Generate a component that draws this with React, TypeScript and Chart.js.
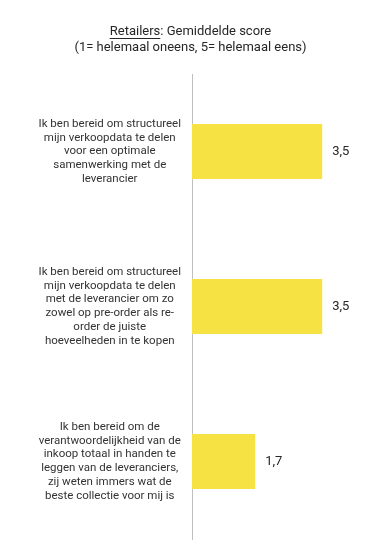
import React, { useEffect, useRef } from "react";
import { Chart, registerables } from "chart.js";

Chart.register(...registerables);

const TITLE_UNDERLINED = "Retailers";
const TITLE_REST = ": Gemiddelde score";
const SUBTITLE = "(1= helemaal oneens, 5= helemaal eens)";

const categories: string[][] = [
  ["Ik ben bereid om structureel", "mijn verkoopdata te delen", "voor een optimale", "samenwerking met de", "leverancier"],
  ["Ik ben bereid om structureel", "mijn verkoopdata te delen", "met de leverancier om zo", "zowel op pre-order als re-", "order de juiste", "hoeveelheden in te kopen"],
  ["Ik ben bereid om de", "verantwoordelijkheid van de", "inkoop totaal in handen te", "leggen van de leveranciers,", "zij weten immers wat de", "beste collectie voor mij is"],
];

const scores: number[] = [3.5, 3.5, 1.7];

const FONT = "Roboto, 'Noto Sans', sans-serif";

const titlePlugin = {
  id: "customTitle",
  afterDraw(chart: any) {
    const ctx = chart.ctx;
    ctx.save();
    ctx.font = `13px ${FONT}`;
    ctx.fillStyle = "#262626";
    ctx.textBaseline = "middle";
    const cx = chart.width / 2;
    const w1 = ctx.measureText(TITLE_UNDERLINED).width;
    const w2 = ctx.measureText(TITLE_REST).width;
    const x0 = cx - (w1 + w2) / 2;
    ctx.textAlign = "left";
    ctx.fillText(TITLE_UNDERLINED, x0, 32);
    ctx.fillRect(x0, 38, w1, 1);
    ctx.fillText(TITLE_REST, x0 + w1, 32);
    ctx.textAlign = "center";
    ctx.fillText(SUBTITLE, cx, 47.5);
    ctx.restore();
  },
};

const valueLabelPlugin = {
  id: "valueLabels",
  afterDatasetsDraw(chart: any) {
    const ctx = chart.ctx;
    const meta = chart.getDatasetMeta(0);
    ctx.save();
    ctx.font = `13px ${FONT}`;
    ctx.fillStyle = "#262626";
    ctx.textAlign = "left";
    ctx.textBaseline = "middle";
    meta.data.forEach((bar: any, i: number) => {
      const v = chart.data.datasets[0].data[i] as number;
      ctx.fillText(v.toFixed(1).replace(".", ","), bar.x + 10, bar.y);
    });
    ctx.restore();
  },
};

export default function App() {
  const canvasRef = useRef<HTMLCanvasElement | null>(null);

  useEffect(() => {
    if (!canvasRef.current) return;
    const chart = new Chart(canvasRef.current, {
      type: "bar",
      data: {
        labels: categories,
        datasets: [
          {
            data: scores,
            backgroundColor: "#F6E343",
            borderWidth: 0,
            categoryPercentage: 1,
            barPercentage: 0.355,
          },
        ],
      },
      options: {
        indexAxis: "y",
        animation: false,
        responsive: true,
        maintainAspectRatio: false,
        layout: { padding: { top: 74, bottom: 9, right: 3, left: 0 } },
        plugins: {
          legend: { display: false },
          title: { display: false },
          tooltip: { enabled: false },
        },
        scales: {
          x: {
            display: false,
            min: 0,
            max: 5,
          },
          y: {
            grid: { display: false, drawTicks: false },
            border: { display: true, color: "#BFBFBF", width: 1 },
            afterFit(scale: any) {
              scale.width = 192;
              scale.paddingTop = 0;
              scale.paddingBottom = 0;
            },
            ticks: {
              autoSkip: false,
              crossAlign: "center",
              padding: 11,
              color: "#333333",
              font: { family: FONT, size: 11.5, lineHeight: 1.2 },
            },
          },
        },
      },
      plugins: [titlePlugin, valueLabelPlugin],
    });
    return () => chart.destroy();
  }, []);

  return (
    <div style={{ position: "fixed", left: 0, top: 0, width: 381, height: 548, background: "#fff" }}>
      <canvas ref={canvasRef} />
    </div>
  );
}
